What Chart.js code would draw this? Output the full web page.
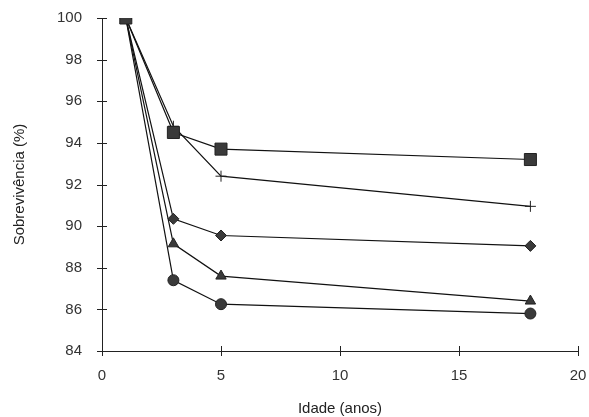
<!DOCTYPE html>
<html><head><meta charset="utf-8">
<script src="https://cdn.jsdelivr.net/npm/chart.js@4"></script>
<style>html,body{margin:0;padding:0;background:#fff}#w{width:589px;height:417px}</style>
</head><body><div id="w"><canvas id="c"></canvas></div>
<script>
const ages = [1, 3, 5, 18];
const seriesSquare = [100, 94.5, 93.7, 93.2];
const seriesCross = [100, 94.8, 92.4, 90.95];
const seriesDiamond = [100, 90.35, 89.55, 89.05];
const seriesTriangle = [100, 89.15, 87.6, 86.4];
const seriesCircle = [100, 87.4, 86.25, 85.8];
const xTicks = [0, 5, 10, 15, 20];
const yTicks = [84, 86, 88, 90, 92, 94, 96, 98, 100];

function mk(vals, style, r) {
  return {
    data: ages.map((a, i) => ({x: a, y: vals[i]})),
    borderColor: '#111', borderWidth: 1.2,
    pointStyle: style, pointRadius: r, pointHoverRadius: r,
    pointBackgroundColor: '#3a3a3a', pointBorderColor: '#222', pointBorderWidth: 1,
    showLine: true, tension: 0
  };
}
const crossTicks = {
  id: 'crossTicks',
  afterDraw(chart) {
    const ctx = chart.ctx, xs = chart.scales.x, ys = chart.scales.y;
    ctx.save(); ctx.strokeStyle = '#222'; ctx.lineWidth = 1;
    ctx.beginPath();
    yTicks.forEach(v => { const p = Math.round(ys.getPixelForValue(v)) + 0.5; ctx.moveTo(xs.left - 5, p); ctx.lineTo(xs.left + 5, p); });
    xTicks.forEach(v => { const p = Math.round(xs.getPixelForValue(v)) + 0.5; ctx.moveTo(p, ys.bottom + 5); ctx.lineTo(p, ys.bottom - 5); });
    ctx.stroke(); ctx.restore();
  }
};
const F = 'Liberation Sans, Arial, sans-serif';
new Chart(document.getElementById('c'), {
  type: 'scatter',
  data: { datasets: [
    mk(seriesSquare, 'rect', 8.5),
    mk(seriesCross, 'cross', 5.5),
    mk(seriesDiamond, 'rectRot', 5.5),
    mk(seriesTriangle, 'triangle', 6),
    mk(seriesCircle, 'circle', 5.5)
  ]},
  options: {
    responsive: true, maintainAspectRatio: false, animation: false,
    layout: { padding: { top: 18, right: 11, left: 6, bottom: 0 } },
    plugins: { legend: { display: false }, tooltip: { enabled: false } },
    scales: {
      x: {
        type: 'linear', min: 0, max: 20,
        afterBuildTicks: s => { s.ticks = xTicks.map(v => ({value: v})); },
        afterFit: s => { s.height = 66; },
        grid: { drawOnChartArea: false, drawTicks: true, tickLength: 16, tickColor: 'rgba(0,0,0,0)' },
        border: { color: '#222', width: 1 },
        ticks: { color: '#333', font: { family: F, size: 15 }, padding: 0 },
        title: { display: true, text: 'Idade (anos)', color: '#222', font: { family: F, size: 15 }, padding: { top: 0, bottom: -1 } }
      },
      y: {
        type: 'linear', min: 84, max: 100,
        afterBuildTicks: s => { s.ticks = yTicks.map(v => ({value: v})); },
        afterFit: s => { s.width = 96; },
        grid: { drawOnChartArea: false, drawTicks: true, tickLength: 20, tickColor: 'rgba(0,0,0,0)' },
        border: { color: '#222', width: 1 },
        ticks: { color: '#333', font: { family: F, size: 15 }, padding: 0 },
        title: { display: true, text: 'Sobrevivência (%)', color: '#222', font: { family: F, size: 15 }, padding: { top: 5, bottom: 0 } }
      }
    }
  },
  plugins: [crossTicks]
});
</script></body></html>
